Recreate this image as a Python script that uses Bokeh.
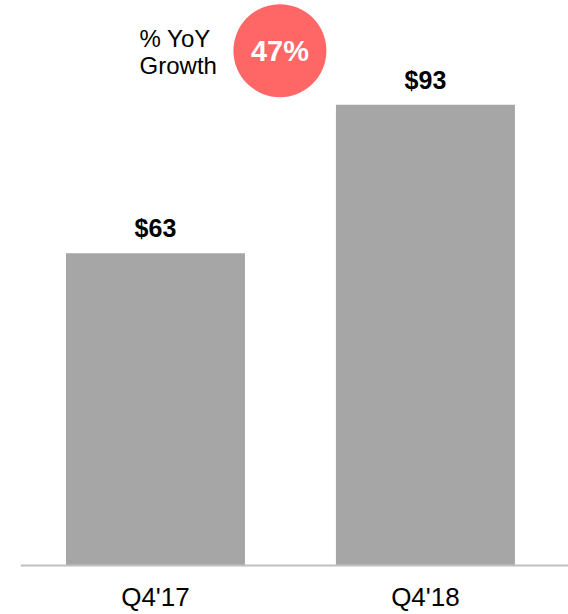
from bokeh.plotting import figure
from bokeh.models import Range1d, FixedTicker, ColumnDataSource
from bokeh.core.properties import value
from bokeh.embed import file_html
from bokeh.resources import INLINE

categories = ["Q4'17", "Q4'18"]
values = [63, 93]
value_labels = ["$63", "$93"]
growth_label = "47%"
growth_title = ["% YoY", "Growth"]

FONT = "Liberation Sans"
BAR_COLOR = "#A6A6A6"

xs = [i + 0.5 for i in range(len(categories))]
src = ColumnDataSource(dict(x=xs, top=values, lab=value_labels))

p = figure(width=568, height=614, output_backend="svg", toolbar_location=None,
           x_range=Range1d(0, 2.03), y_range=Range1d(-9.89, 114.03),
           y_axis_location=None, min_border_left=20, min_border_right=0,
           min_border_top=0, min_border_bottom=0)
p.outline_line_color = None
p.xgrid.visible = False
p.ygrid.visible = False
p.background_fill_color = "white"
p.border_fill_color = "white"

p.vbar(x="x", top="top", bottom=0, width=0.663, source=src,
       fill_color=BAR_COLOR, line_color=None)

p.text(x="x", y="top", text="lab", source=src, text_align="center",
       text_baseline="middle", y_offset=-25, text_font=value(FONT),
       text_font_size="25px", text_font_style="bold", text_color="black")

# growth bubble
p.scatter(x=[0.961], y=[103.9], size=93, marker="circle",
          fill_color="#FF6666", line_color=None)
p.text(x=[0.961], y=[103.9], text=[growth_label], text_align="center",
       text_baseline="middle", text_font=value(FONT), text_font_size="29px",
       text_font_style="bold", text_color="white")
p.text(x=[0.441, 0.441], y=[106.26, 101.0], text=growth_title,
       text_align="left", text_baseline="middle", text_font=value(FONT),
       text_font_size="24px", text_color="black")

ax = p.xaxis[0]
ax.fixed_location = 0
ax.ticker = FixedTicker(ticks=xs)
ax.major_label_overrides = {x: c for x, c in zip(xs, categories)}
ax.major_tick_line_color = None
ax.minor_tick_line_color = None
ax.axis_line_color = "#BFBFBF"
ax.axis_line_width = 2
ax.major_label_standoff = 11
ax.major_label_text_font = FONT
ax.major_label_text_font_size = "26px"
ax.major_label_text_color = "black"

open("out.html", "w").write(file_html(p, INLINE))
